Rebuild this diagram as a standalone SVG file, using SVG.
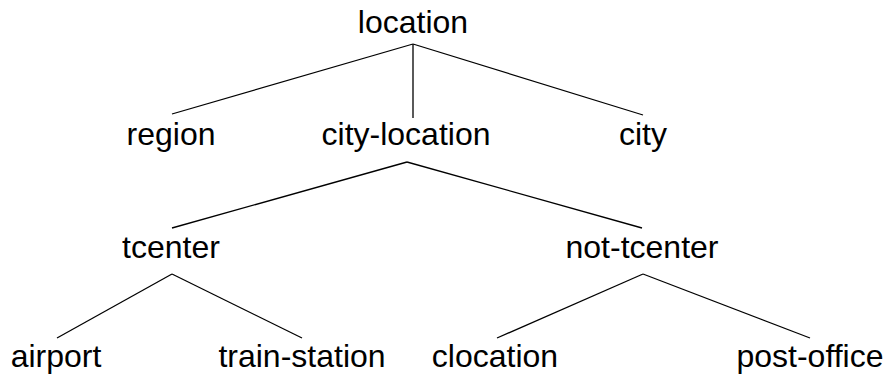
<svg xmlns="http://www.w3.org/2000/svg" width="888" height="375" viewBox="0 0 888 375">
<style>
text{font-family:"Liberation Sans",Arial,sans-serif;font-size:32px;fill:#000;text-anchor:middle}
.e{stroke:#000;stroke-width:1.3;fill:none}
</style>
<rect width="888" height="375" fill="#fff"/>
<g id="connectors">
<line class="e" x1="413" y1="44" x2="172" y2="114"/>
<line class="e" x1="413" y1="44" x2="413" y2="118"/>
<line class="e" x1="413" y1="44" x2="643" y2="115"/>
<line class="e" x1="407" y1="162" x2="172" y2="228"/>
<line class="e" x1="407" y1="162" x2="642" y2="228"/>
<line class="e" x1="172" y1="274" x2="57" y2="338"/>
<line class="e" x1="172" y1="274" x2="302" y2="338"/>
<line class="e" x1="643" y1="274" x2="497" y2="338"/>
<line class="e" x1="643" y1="274" x2="810" y2="338"/>
</g>
<g id="n-location"><text x="413" y="33">location</text></g>
<g id="n-region"><text x="171" y="145">region</text></g>
<g id="n-city-location"><text x="406" y="145">city-location</text></g>
<g id="n-city"><text x="643" y="145">city</text></g>
<g id="n-tcenter"><text x="171" y="258">tcenter</text></g>
<g id="n-not-tcenter"><text x="642" y="258">not-tcenter</text></g>
<g id="n-airport"><text x="56" y="367">airport</text></g>
<g id="n-train-station"><text x="302" y="367">train-station</text></g>
<g id="n-clocation"><text x="495" y="367">clocation</text></g>
<g id="n-post-office"><text x="810" y="367">post-office</text></g>
</svg>
